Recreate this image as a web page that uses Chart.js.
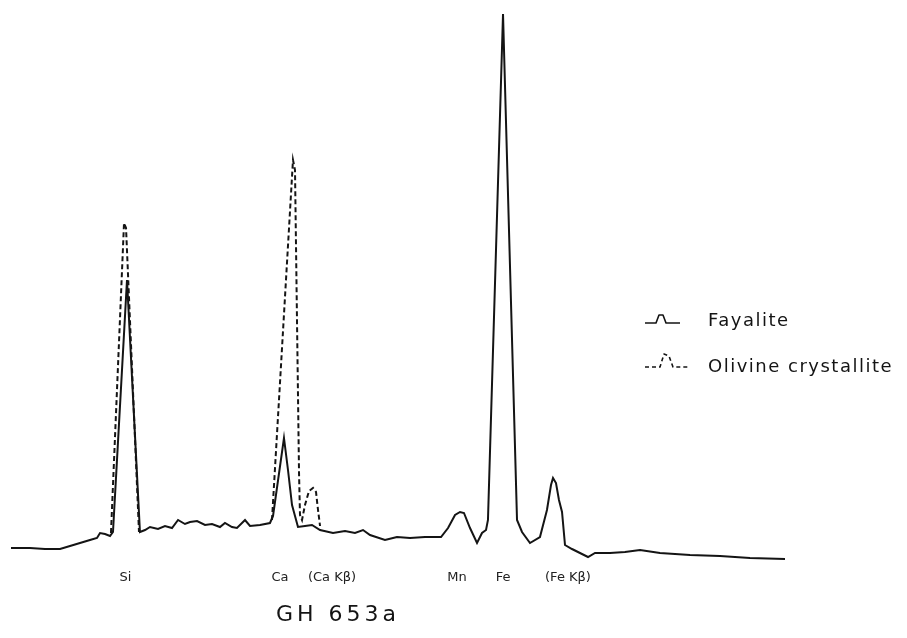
<!DOCTYPE html>
<html>
<head>
<meta charset="utf-8">
<script src="https://cdn.jsdelivr.net/npm/chart.js@4/dist/chart.umd.min.js"></script>
<style>
  html, body { margin: 0; padding: 0; background: #fff; }
  canvas { display: block; }
</style>
</head>
<body>
<canvas id="spectrum" width="907" height="638"></canvas>
<script>
// energy (keV) and counts
const energy = [0.299, 0.535, 0.721, 0.908, 1.032, 1.156, 1.280, 1.367, 1.405, 1.467, 1.529, 1.566,
  1.740, 1.901, 1.964, 2.026, 2.125, 2.212, 2.299, 2.374, 2.460, 2.523, 2.610, 2.709, 2.796, 2.895,
  2.957, 3.044, 3.106, 3.206, 3.268, 3.392, 3.516, 3.554, 3.690, 3.740, 3.790, 3.864, 3.951, 4.038,
  4.138, 4.299, 4.448, 4.572, 4.672, 4.759, 4.945, 5.094, 5.256, 5.442, 5.641, 5.728, 5.815, 5.877,
  5.926, 6.001, 6.088, 6.150, 6.200, 6.224, 6.411, 6.585, 6.647, 6.746, 6.870, 6.957, 7.007, 7.032,
  7.069, 7.106, 7.144, 7.181, 7.268, 7.367, 7.467, 7.554, 7.740, 7.926, 8.113, 8.361, 8.734, 9.106,
  9.479, 9.914];
const fayalite = [120, 120, 110, 110, 140, 170, 200, 220, 270, 260, 240, 280,
  2800, 280, 300, 330, 310, 340, 320, 400, 360, 380, 390, 350, 360, 330,
  370, 330, 320, 400, 340, 350, 370, 440, 1220, 900, 550, 330, 340, 350,
  300, 270, 290, 270, 300, 250, 200, 230, 220, 230, 230, 320, 450, 480,
  470, 320, 170, 270, 300, 400, 5460, 400, 280, 170, 230, 500, 750, 820,
  770, 600, 480, 150, 110, 70, 30, 70, 70, 80, 100, 70, 50, 40,
  20, 10];

// olivine crystallite only where it departs from the fayalite trace
const olivineEnergy = [1.541, 1.703, 1.728, 1.889, 2.800, 3.541, 3.802, 3.827, 3.877, 3.889,
  3.914, 3.951, 4.001, 4.051, 4.088, 4.113, 4.138];
const olivine = [270, 3370, 3320, 280, null, 400, 4000, 3900, 870, 450,
  400, 550, 690, 720, 680, 500, 340];

const tickEnergies = [1.72, 3.641, 4.287, 5.839, 6.411, 7.218];
const tickLabels = ['Si', 'Ca', '(Ca Kβ)', 'Mn', 'Fe', '(Fe Kβ)'];

const sampleName = 'GH 653a';
const seriesNames = ['Fayalite', 'Olivine crystallite'];

const toPoints = (xs, ys) => xs.map((x, i) => ({ x: x, y: ys[i] }));

const ink = '#141414';

const annotations = {
  id: 'annotations',
  afterDraw(chart) {
    const c = chart.ctx;
    c.save();
    c.strokeStyle = ink;
    c.fillStyle = ink;
    c.lineWidth = 1.6;
    c.lineJoin = 'round';

    // legend glyphs
    c.beginPath();
    c.moveTo(645, 323); c.lineTo(656, 323); c.lineTo(659, 315);
    c.lineTo(663, 315); c.lineTo(666, 323); c.lineTo(680, 323);
    c.stroke();

    c.setLineDash([4, 3]);
    c.beginPath();
    c.moveTo(645, 367); c.lineTo(660, 367); c.lineTo(664, 354);
    c.lineTo(669, 356); c.lineTo(673, 367); c.lineTo(689, 367);
    c.stroke();
    c.setLineDash([]);

    c.font = '18px "DejaVu Sans"';
    c.textBaseline = 'middle';
    c.textAlign = 'left';
    if ('letterSpacing' in c) c.letterSpacing = '1.5px';
    c.fillText(seriesNames[0], 708, 321);
    c.fillText(seriesNames[1], 708, 367);

    // sample name under the axis
    c.font = '22px "DejaVu Sans"';
    if ('letterSpacing' in c) c.letterSpacing = '4px';
    c.fillText(sampleName, 276, 615);
    c.restore();
  }
};

new Chart(document.getElementById('spectrum'), {
  type: 'line',
  data: {
    datasets: [{
      label: seriesNames[1],
      data: toPoints(olivineEnergy, olivine),
      borderColor: ink,
      borderWidth: 2,
      borderDash: [5, 3],
      pointRadius: 0,
      tension: 0,
      fill: false
    }, {
      label: seriesNames[0],
      data: toPoints(energy, fayalite),
      borderColor: ink,
      borderWidth: 2,
      pointRadius: 0,
      tension: 0,
      fill: false
    }]
  },
  options: {
    responsive: false,
    animation: false,
    layout: { padding: 0 },
    plugins: {
      legend: { display: false },
      tooltip: { enabled: false }
    },
    scales: {
      x: {
        type: 'linear',
        min: 0.1624,
        max: 11.4294,
        grid: { display: false },
        border: { display: false },
        afterBuildTicks: axis => {
          axis.ticks = tickEnergies.map(v => ({ value: v }));
        },
        afterFit: axis => { axis.height = 78; },
        ticks: {
          autoSkip: false,
          maxRotation: 0,
          minRotation: 0,
          padding: 2,
          color: '#222',
          font: { family: 'DejaVu Sans', size: 13 },
          callback: (v, i) => tickLabels[i]
        }
      },
      y: {
        display: false,
        min: 0,
        max: 5600
      }
    }
  },
  plugins: [annotations]
});
</script>
</body>
</html>
